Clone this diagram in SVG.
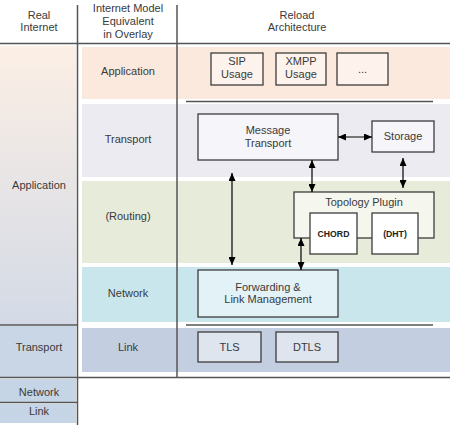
<svg xmlns="http://www.w3.org/2000/svg" width="450" height="425" viewBox="0 0 450 425">
<defs>
<linearGradient id="leftApp" x1="0" y1="0" x2="0" y2="1">
<stop offset="0" stop-color="#fcefe5"/>
<stop offset="1" stop-color="#d3dae6"/>
</linearGradient>
<marker id="ah" viewBox="0 0 8 7" refX="8" refY="3.5" markerWidth="8" markerHeight="7" markerUnits="userSpaceOnUse" orient="auto-start-reverse">
<path d="M0,0 L8,3.5 L0,7 z" fill="#000"/>
</marker>
<style>
text{font-family:"Liberation Sans",Arial,sans-serif;font-size:11px;fill:#3a3a3a;text-anchor:middle}
.sm{font-size:8.7px;font-weight:bold;fill:#222}
.box{stroke:#3c3c3c;stroke-width:1.3}
.div{stroke:#555;stroke-width:1.5;fill:none}
.arr{stroke:#000;stroke-width:1.2;fill:none;marker-start:url(#ah);marker-end:url(#ah)}
</style>
</defs>
<rect width="450" height="425" fill="#fff"/>
<g id="backgrounds">
<rect x="0" y="46" width="76" height="279" fill="url(#leftApp)"/>
<rect x="0" y="326" width="76" height="51" fill="#c9d6e6"/>
<rect x="0" y="379" width="76" height="23" fill="#c6d5e6"/>
<rect x="0" y="404" width="76" height="19" fill="#c6d5e6"/>
<rect x="82" y="47" width="368" height="52" fill="#fce9dd"/>
<rect x="82" y="104" width="368" height="73" fill="#ecebf2"/>
<rect x="82" y="181" width="368" height="82" fill="#e7ebda"/>
<rect x="82" y="267" width="368" height="55" fill="#c9e6ec"/>
<rect x="82" y="328" width="368" height="44" fill="#c3cfe0"/>
</g>
<g id="grid">
<line class="div" x1="0" y1="43.5" x2="450" y2="43.5"/>
<line class="div" x1="0" y1="377.5" x2="450" y2="377.5"/>
<line class="div" x1="0" y1="325" x2="77" y2="325"/>
<line class="div" x1="0" y1="402.5" x2="77" y2="402.5"/>
<line class="div" x1="77.5" y1="5" x2="77.5" y2="425"/>
<line class="div" x1="177" y1="5" x2="177" y2="377"/>
<line class="div" x1="186" y1="101.5" x2="433" y2="101.5"/>
<line class="div" x1="186" y1="325" x2="433" y2="325"/>
</g>
<g id="headers">
<text x="39" y="19">Real</text>
<text x="39" y="31">Internet</text>
<text x="128" y="12">Internet Model</text>
<text x="128" y="25">Equivalent</text>
<text x="128" y="38">in Overlay</text>
<text x="297" y="19">Reload</text>
<text x="297" y="31">Architecture</text>
</g>
<g id="layer-labels">
<text x="39" y="189">Application</text>
<text x="39" y="351">Transport</text>
<text x="39" y="396">Network</text>
<text x="39" y="415">Link</text>
<text x="128" y="75">Application</text>
<text x="128" y="143">Transport</text>
<text x="128" y="220">(Routing)</text>
<text x="128" y="297">Network</text>
<text x="128" y="351">Link</text>
</g>
<g id="sip-usage">
<rect class="box" x="211" y="53" width="52" height="32" fill="#fdf3ec"/>
<text x="237" y="65">SIP</text>
<text x="237" y="78">Usage</text>
</g>
<g id="xmpp-usage">
<rect class="box" x="276" y="53" width="50" height="32" fill="#fdf3ec"/>
<text x="301" y="65">XMPP</text>
<text x="301" y="78">Usage</text>
</g>
<g id="more-usage">
<rect class="box" x="337" y="53" width="51" height="32" fill="#fdf3ec"/>
<text x="362.5" y="73">...</text>
</g>
<g id="message-transport">
<rect class="box" x="198" y="114" width="140" height="46" fill="#f6f5f9"/>
<text x="268" y="134">Message</text>
<text x="268" y="147">Transport</text>
</g>
<g id="storage">
<rect class="box" x="372" y="121" width="62" height="31" fill="#f6f5f9"/>
<text x="403" y="139.5">Storage</text>
</g>
<g id="topology-plugin">
<rect class="box" x="294" y="192" width="140" height="46" fill="#f5f7ef"/>
<text x="364" y="206">Topology Plugin</text>
</g>
<g id="chord">
<rect class="box" x="310" y="213" width="47" height="41" fill="#fff"/>
<text class="sm" x="333.5" y="236.5">CHORD</text>
</g>
<g id="dht">
<rect class="box" x="372" y="213" width="46" height="41" fill="#fff"/>
<text class="sm" x="395" y="236.5">(DHT)</text>
</g>
<g id="forwarding">
<rect class="box" x="198" y="270" width="140" height="47" fill="#e3f2f6"/>
<text x="268" y="291">Forwarding &amp;</text>
<text x="268" y="303">Link Management</text>
</g>
<g id="tls">
<rect class="box" x="198" y="332" width="63" height="30" fill="#dee5ef"/>
<text x="229.5" y="351">TLS</text>
</g>
<g id="dtls">
<rect class="box" x="276" y="332" width="62" height="30" fill="#dee5ef"/>
<text x="307" y="351">DTLS</text>
</g>
<g id="connectors">
<line class="arr" x1="338" y1="137" x2="372" y2="137"/>
<line class="arr" x1="312" y1="160" x2="312" y2="192"/>
<line class="arr" x1="403" y1="158" x2="403" y2="188"/>
<line class="arr" x1="232" y1="173" x2="232" y2="265"/>
<line class="arr" x1="301" y1="238" x2="301" y2="270"/>
</g>
</svg>
